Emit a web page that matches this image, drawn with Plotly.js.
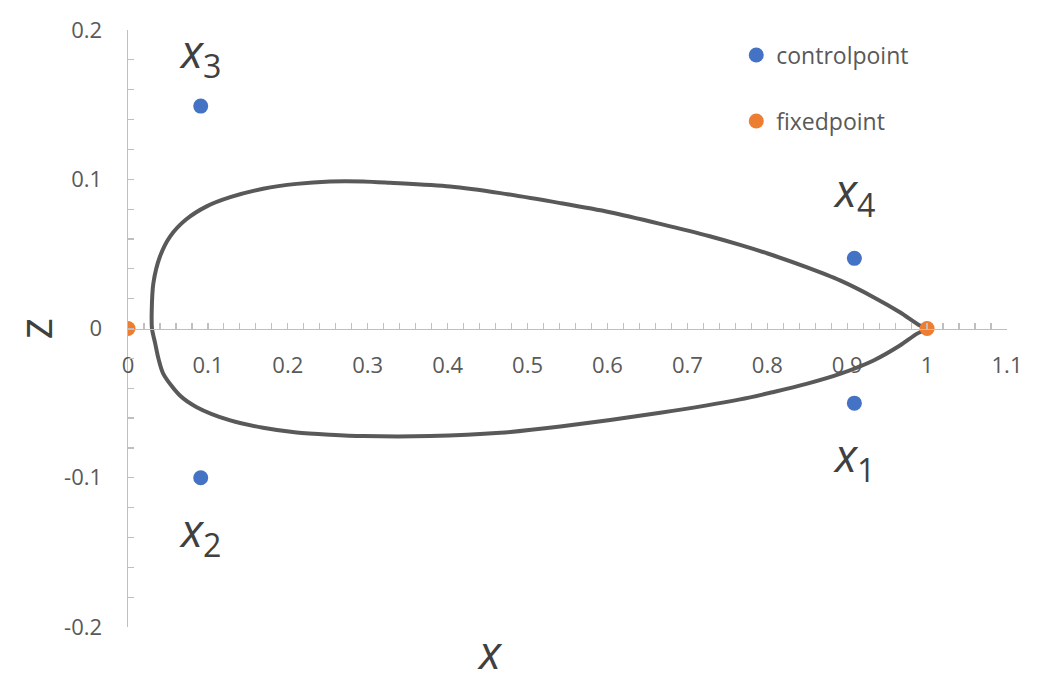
<!DOCTYPE html>
<html>
<head>
<meta charset="utf-8">
<script src="https://cdn.plot.ly/plotly-3.0.1.min.js"></script>
<style>html,body{margin:0;padding:0;background:#fff;}#chart{width:1042px;height:681px;}</style>
</head>
<body>
<div id="chart"></div>
<script>
// Curve, starting at trailing point, upper side then lower side
const curveX = [1.0, 0.991, 0.966, 0.933, 0.891, 0.849, 0.808, 0.766, 0.728, 0.666, 0.603, 0.541, 0.466, 0.403, 0.328, 0.2945, 0.253, 0.211, 0.169, 0.128, 0.099, 0.0726, 0.0526, 0.040, 0.0317, 0.0297, 0.030, 0.034, 0.038, 0.0442, 0.065, 0.086, 0.128, 0.169, 0.211, 0.253, 0.2945, 0.378, 0.466, 0.541, 0.666, 0.766, 0.808, 0.849, 0.891, 0.933, 0.966, 0.987, 1.0];
const curveZ = [0.0, 0.002, 0.0109, 0.021, 0.0322, 0.0411, 0.0489, 0.0560, 0.0618, 0.0701, 0.0779, 0.0840, 0.0907, 0.0951, 0.0976, 0.0985, 0.0985, 0.0969, 0.0936, 0.0880, 0.0820, 0.0730, 0.0616, 0.0482, 0.0302, 0.012, 0.0, -0.010, -0.020, -0.0304, -0.0449, -0.0527, -0.0616, -0.0665, -0.0697, -0.0712, -0.0721, -0.0721, -0.0699, -0.0657, -0.0565, -0.0475, -0.0425, -0.0371, -0.0304, -0.0214, -0.0114, -0.0036, 0.0];

const controlNames = ['1', '2', '3', '4'];
const controlX = [0.909, 0.091, 0.091, 0.909];
const controlZ = [-0.050, -0.100, 0.149, 0.047];

const fixedX = [0, 1];
const fixedZ = [0, 0];

const xTickVals = [0, 0.1, 0.2, 0.3, 0.4, 0.5, 0.6, 0.7, 0.8, 0.9, 1, 1.1];
const xTickText = ['0', '0.1', '0.2', '0.3', '0.4', '0.5', '0.6', '0.7', '0.8', '0.9', '1', '1.1'];
const zTickVals = [-0.2, -0.1, 0, 0.1, 0.2];
const zTickText = ['-0.2', '-0.1', '0', '0.1', '0.2'];

const axisCol = '#bfbfbf';
const tickFont = {family: 'Open Sans, sans-serif', size: 22, color: '#595959'};
const labelFont = {family: 'Open Sans, sans-serif', size: 46, color: '#404040'};

const traces = [
  {x: curveX, y: curveZ, mode: 'lines', line: {color: '#595959', width: 4, shape: 'spline', smoothing: 0.8}, showlegend: false, hoverinfo: 'skip'},
  {x: controlX, y: controlZ, mode: 'markers', name: 'controlpoint', legendgroup: 'a', marker: {color: '#4472C4', size: 15}},
  {x: fixedX, y: fixedZ, mode: 'markers', name: 'fixedpoint', legendgroup: 'b', marker: {color: '#ED7D31', size: 15}}
];

// label offsets (pixels) for control point annotations
const labelShift = [-54, -54, 53, 66];
const annotations = controlNames.map((n, i) => ({
  x: controlX[i], y: controlZ[i], xref: 'x', yref: 'y',
  text: '<i>x</i><sub>' + n + '</sub>', showarrow: false,
  yshift: labelShift[i], xshift: 0, font: labelFont, xanchor: 'center', yanchor: 'middle'
}));
annotations.push({x: 0.453, y: -0.04, xref: 'x', yref: 'paper', text: '<i>x</i>', showarrow: false, font: labelFont, xanchor: 'center', yanchor: 'middle'});
annotations.push({x: -0.107, y: 0.5, xref: 'paper', yref: 'paper', text: 'z', showarrow: false, font: {family: 'Open Sans, sans-serif', size: 46, color: '#404040'}, textangle: -90, xanchor: 'center', yanchor: 'middle'});

const layout = {
  width: 1042, height: 681,
  margin: {l: 128, r: 35, t: 30, b: 54},
  paper_bgcolor: '#ffffff', plot_bgcolor: '#ffffff',
  showlegend: true,
  legend: {x: 0.692, y: 0.994, xanchor: 'left', yanchor: 'top', font: {family: 'Open Sans, sans-serif', size: 23, color: '#595959'}, traceorder: 'grouped', tracegroupgap: 33, bgcolor: 'rgba(0,0,0,0)', itemwidth: 30},
  xaxis: {range: [0, 1.1], showgrid: false, zeroline: false, showline: true, linecolor: axisCol, linewidth: 1.5,
    anchor: 'free', position: 0.5, tickmode: 'array', tickvals: xTickVals, ticktext: xTickText,
    ticks: 'inside', ticklen: 6, tickcolor: axisCol, tickwidth: 1.2, tickfont: tickFont, ticklabelstandoff: 17,
    minor: {dtick: 0.02, ticks: 'inside', ticklen: 6, tickcolor: axisCol, tickwidth: 1.2, showgrid: false}},
  yaxis: {range: [-0.2, 0.2], showgrid: false, zeroline: false, showline: true, linecolor: axisCol, linewidth: 1.5,
    tickmode: 'array', tickvals: zTickVals, ticktext: zTickText,
    ticks: 'inside', ticklen: 6, tickcolor: axisCol, tickwidth: 1.2, tickfont: tickFont, ticklabelstandoff: 20,
    minor: {dtick: 0.02, ticks: 'inside', ticklen: 6, tickcolor: axisCol, tickwidth: 1.2, showgrid: false}},
  annotations: annotations
};

Plotly.newPlot('chart', traces, layout, {displayModeBar: false, staticPlot: true});
</script>
</body>
</html>
